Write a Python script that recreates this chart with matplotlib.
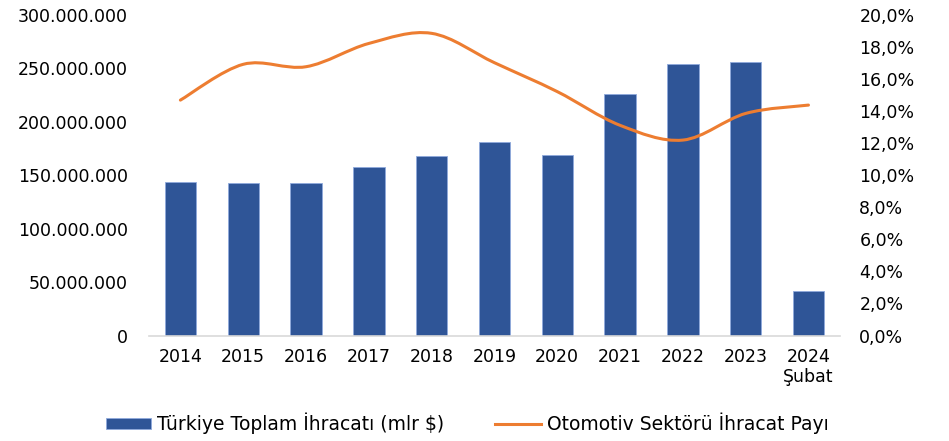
import numpy as np
import matplotlib
matplotlib.use('Agg')
from matplotlib import pyplot as plt
from matplotlib.path import Path
from matplotlib.patches import PathPatch
from matplotlib.ticker import FuncFormatter

years = ['2014', '2015', '2016', '2017', '2018', '2019', '2020', '2021', '2022', '2023', '2024\nŞubat']
ihracat = [143.5e6, 142.2e6, 142.2e6, 157.5e6, 167.8e6, 180.8e6, 168.7e6, 225.5e6, 253.7e6, 255.4e6, 41.6e6]
otomotiv_pay = [14.67, 16.9, 16.75, 18.2, 18.83, 17.0, 15.2, 13.1, 12.18, 13.84, 14.36]

plt.rcParams['font.family'] = ['DejaVu Sans']
plt.rcParams['font.size'] = 12.5

BAR = '#2F5597'
LINE = '#ED7D31'


def smooth_path(x, y, t=1/6):
    # excel style smoothed line: catmull-rom as cubic bezier
    x = np.asarray(x, float)
    y = np.asarray(y, float)
    px = np.concatenate([[x[0]], x, [x[-1]]])
    py = np.concatenate([[y[0]], y, [y[-1]]])
    verts = [(x[0], y[0])]
    codes = [Path.MOVETO]
    for i in range(1, len(x)):
        c1 = (px[i] + (px[i + 1] - px[i - 1]) * t, py[i] + (py[i + 1] - py[i - 1]) * t)
        c2 = (px[i + 1] - (px[i + 2] - px[i]) * t, py[i + 1] - (py[i + 2] - py[i]) * t)
        verts += [c1, c2, (x[i], y[i])]
        codes += [Path.CURVE4] * 3
    return Path(verts, codes)


fig = plt.figure(figsize=(9.49, 4.41), dpi=100)
ax = fig.add_axes([0.157, 0.239, 0.728, 0.728])
pos = np.arange(len(years))
ax.bar(pos, ihracat, width=0.5, color=BAR, edgecolor='#8FAADC', linewidth=0.6,
       label='Türkiye Toplam İhracatı (mlr $)', zorder=2)
ax.set_xlim(-0.5, len(years) - 0.5)
ax.set_ylim(0, 300e6)
ax.set_yticks(np.arange(0, 300e6 + 1, 50e6))
ax.yaxis.set_major_formatter(FuncFormatter(lambda v, p: f'{v:,.0f}'.replace(',', '.')))
ax.set_xticks(pos)
ax.set_xticklabels(years, linespacing=1.1, va='top')
ax.tick_params(axis='both', length=0)
ax.tick_params(axis='y', pad=15)
ax.tick_params(axis='x', pad=9)
for s in ['top', 'right', 'left']:
    ax.spines[s].set_visible(False)
ax.spines['bottom'].set_color('#D9D9D9')
ax.spines['bottom'].set_linewidth(1.2)

ax2 = ax.twinx()
ax2.set_ylim(0, 20)
ax2.set_yticks(np.arange(0, 20.1, 2))
ax2.yaxis.set_major_formatter(FuncFormatter(lambda v, p: f'{v:.1f}%'.replace('.', ',')))
ax2.tick_params(axis='y', length=0, pad=14)
for s in ax2.spines.values():
    s.set_visible(False)
ax2.add_patch(PathPatch(smooth_path(pos, otomotiv_pay), facecolor='none', edgecolor=LINE,
                        linewidth=2.2, capstyle='round', zorder=3))
line_handle, = ax2.plot([], [], color=LINE, linewidth=2.2, label='Otomotiv Sektörü İhracat Payı')

bar_handle = ax.containers[0]
fig.legend([bar_handle, line_handle], [bar_handle.get_label(), line_handle.get_label()],
           loc='center', bbox_to_anchor=(0.492, 0.04), ncol=2, frameon=False, fontsize=13.5,
           handlelength=2.45, handleheight=0.5, handletextpad=0.28, columnspacing=2.75)

plt.savefig('out.png', dpi=100)
